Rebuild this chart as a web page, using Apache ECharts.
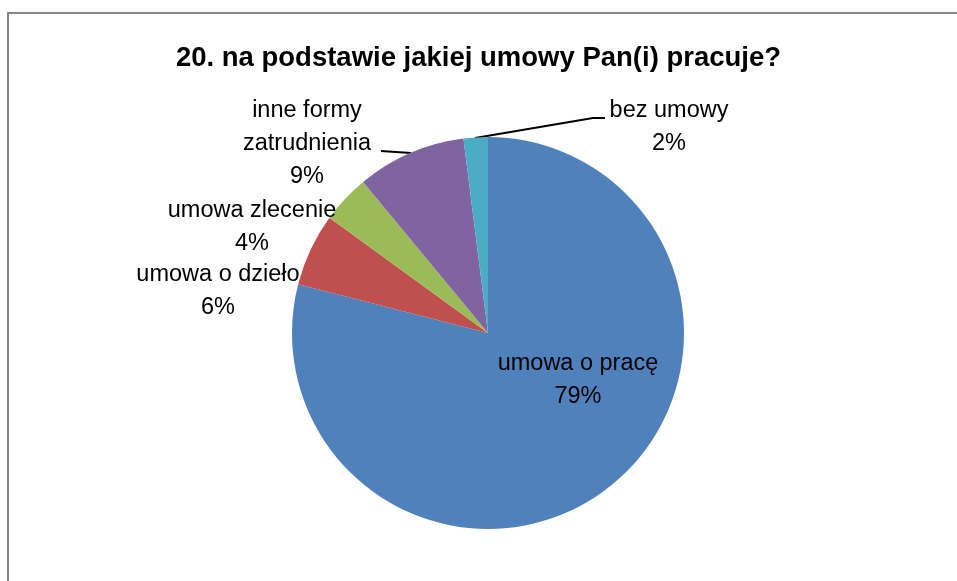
<!DOCTYPE html>
<html>
<head>
<meta charset="utf-8">
<script src="https://cdn.jsdelivr.net/npm/echarts@6/dist/echarts.min.js"></script>
<style>
html,body{margin:0;padding:0;background:#fff;}
#chart{width:957px;height:581px;}
</style>
</head>
<body>
<div id="chart"></div>
<script>
// dane wykresu
var categories = ['umowa o pracę', 'umowa o dzieło', 'umowa zlecenie', 'inne formy\nzatrudnienia', 'bez umowy'];
var values = [79, 6, 4, 9, 2];
var colors = ['#4F81BD', '#C0504D', '#9BBB59', '#8064A2', '#4BACC6'];

// polozenie etykiet (jak w Excelu)
var labelPos = [[578, 380], [218, 291], [252, 227], [307, 144], [669, 127]];
var leaderLines = {
    3: [[411, 153], [396, 152], [381, 151]],
    4: [[475, 138], [593, 118], [605, 118]]
};

var myChart = echarts.init(document.getElementById('chart'));
var option = {
    animation: false,
    title: {
        text: '20. na podstawie jakiej umowy Pan(i) pracuje?',
        left: 'center',
        top: 39,
        textStyle: {
            fontFamily: 'Liberation Sans',
            fontSize: 27.5,
            fontWeight: 'bold',
            color: '#000'
        }
    },
    color: colors,
    graphic: [
        {
            type: 'rect',
            shape: {x: 8, y: 13, width: 1000, height: 1000},
            style: {fill: 'none', stroke: '#868686', lineWidth: 2},
            silent: true
        }
    ],
    series: [
        {
            type: 'pie',
            center: [488, 333],
            radius: 196,
            startAngle: 90,
            clockwise: true,
            avoidLabelOverlap: false,
            label: {
                show: true,
                formatter: '{b}\n{d}%',
                fontFamily: 'Liberation Sans',
                fontSize: 23.5,
                lineHeight: 33,
                color: '#000',
                align: 'center'
            },
            labelLine: {
                show: true,
                lineStyle: {color: '#000', width: 2}
            },
            labelLayout: function (params) {
                var p = labelPos[params.dataIndex];
                var res = {x: p[0], y: p[1], align: 'center', verticalAlign: 'middle'};
                if (leaderLines[params.dataIndex]) {
                    res.labelLinePoints = leaderLines[params.dataIndex];
                }
                return res;
            },
            itemStyle: {borderWidth: 0},
            emphasis: {disabled: true},
            data: categories.map(function (c, i) {
                return {
                    name: c,
                    value: values[i],
                    label: {position: i === 0 ? 'inside' : 'outside'},
                    labelLine: {show: !!leaderLines[i]}
                };
            })
        }
    ]
};
myChart.setOption(option);
</script>
</body>
</html>
